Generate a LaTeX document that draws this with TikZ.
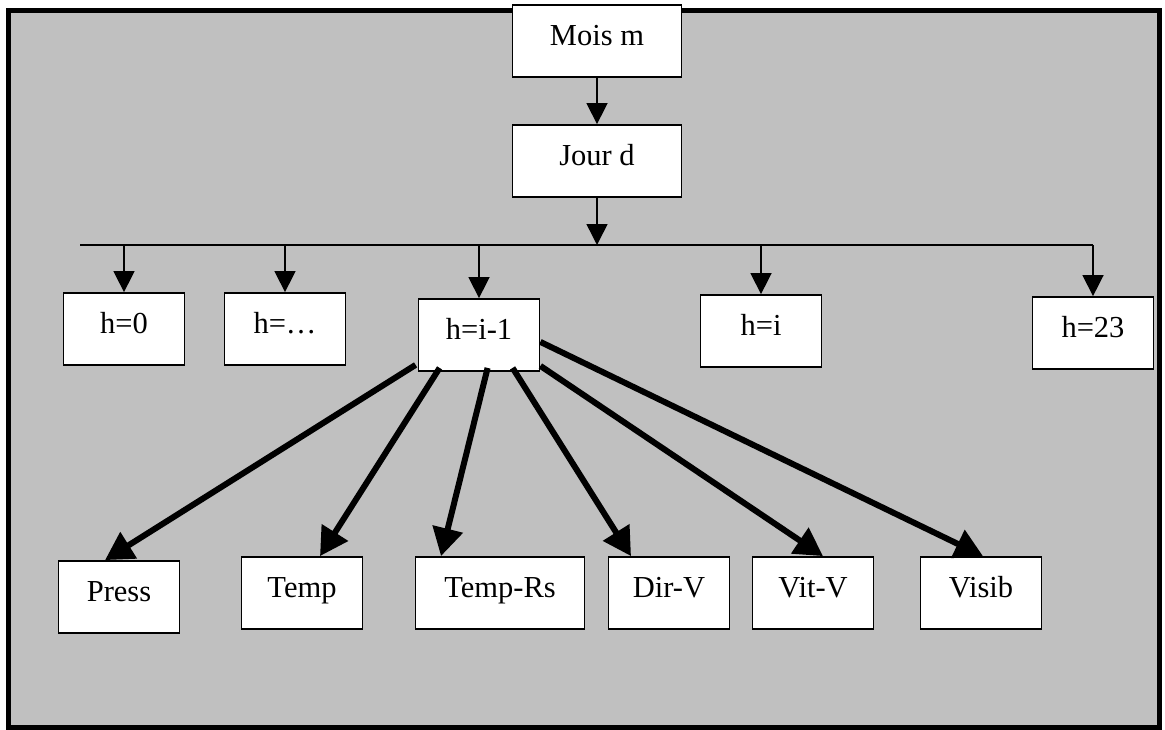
\documentclass[tikz,border=0pt]{standalone}
\usepackage{fontspec}
\setmainfont{Liberation Serif}
\usetikzlibrary{arrows.meta,positioning,calc}

\definecolor{framegray}{RGB}{192,192,192}

\tikzstyle{box} = [rectangle, draw=black, line width=0.9pt, fill=white, minimum width=60.5pt, minimum height=36pt, inner sep=0pt, text height=10pt, text depth=6pt, font=\fontsize{15.25pt}{18pt}\selectfont]
\tikzstyle{widebox} = [box, minimum width=84.5pt]
\tikzstyle{arrow} = [line width=0.75pt,-{Triangle[length=10.5pt,width=10.5pt]}]
\tikzstyle{bigarrow} = [line width=3pt,-{Triangle[length=14pt,width=15pt]}]

\begin{document}
\begin{tikzpicture}[x=0.5pt, y=-0.5pt, node distance=60pt]
    \useasboundingbox (0,0) rectangle (1165,729);
    \draw [line width=2.5pt, fill=framegray] (8,10) rectangle (1159,727);

    \node (mois) [widebox] at (597,41) {Mois m};
    \node (jour) [widebox, below of=mois] {Jour d};

    % hours
    \node (h0) [box] at (124,329) {h=0};
    \node (hdots) [box, right of=h0, node distance=80.5pt] {h=…};
    \node (hi1) [box] at (479,335) {h=i-1};
    \node (hi) [box] at (761,331) {h=i};
    \node (h23) [box] at (1093,333) {h=23};

    % variables
    \node (press) [box] at (119,597) {Press};
    \node (temp) [box] at (302,593) {Temp};
    \node (temprs) [widebox] at (500,593) {Temp-Rs};
    \node (dirv) [box] at (669,593) {Dir-V};
    \node (vitv) [box] at (813,593) {Vit-V};
    \node (visib) [box] at (981,593) {Visib};

    \coordinate (bus) at (80,245);
    \draw [line width=0.75pt] (bus) -- (bus -| h23);

    \draw [arrow] (mois) -- (jour);
    \draw [arrow] (jour) -- (jour |- bus);
    \foreach \h in {h0,hdots,hi1,hi,h23}
        \draw [arrow] (\h.north |- bus) -- (\h);

    \draw [bigarrow] ($(hi1.south west)+(-2,-7)$) -- ($(press.north)+(-14,0)$);
    \draw [bigarrow] ($(hi1.south west)+(22,-4)$) -- ($(temp.north)+(18,0)$);
    \draw [bigarrow] ($(hi1.south west)+(70,-4)$) -- ($(temprs.north)+(-59,0)$);
    \draw [bigarrow] ($(hi1.south west)+(95,-4)$) -- ($(dirv.north)+(-38,0)$);
    \draw [bigarrow] ($(hi1.south east)+(0,-6)$) -- ($(vitv.north)+(10,0)$);
    \draw [bigarrow] ($(hi1.south east)+(0,-30)$) -- ($(visib.north)+(2,0)$);

\end{tikzpicture}
\end{document}
